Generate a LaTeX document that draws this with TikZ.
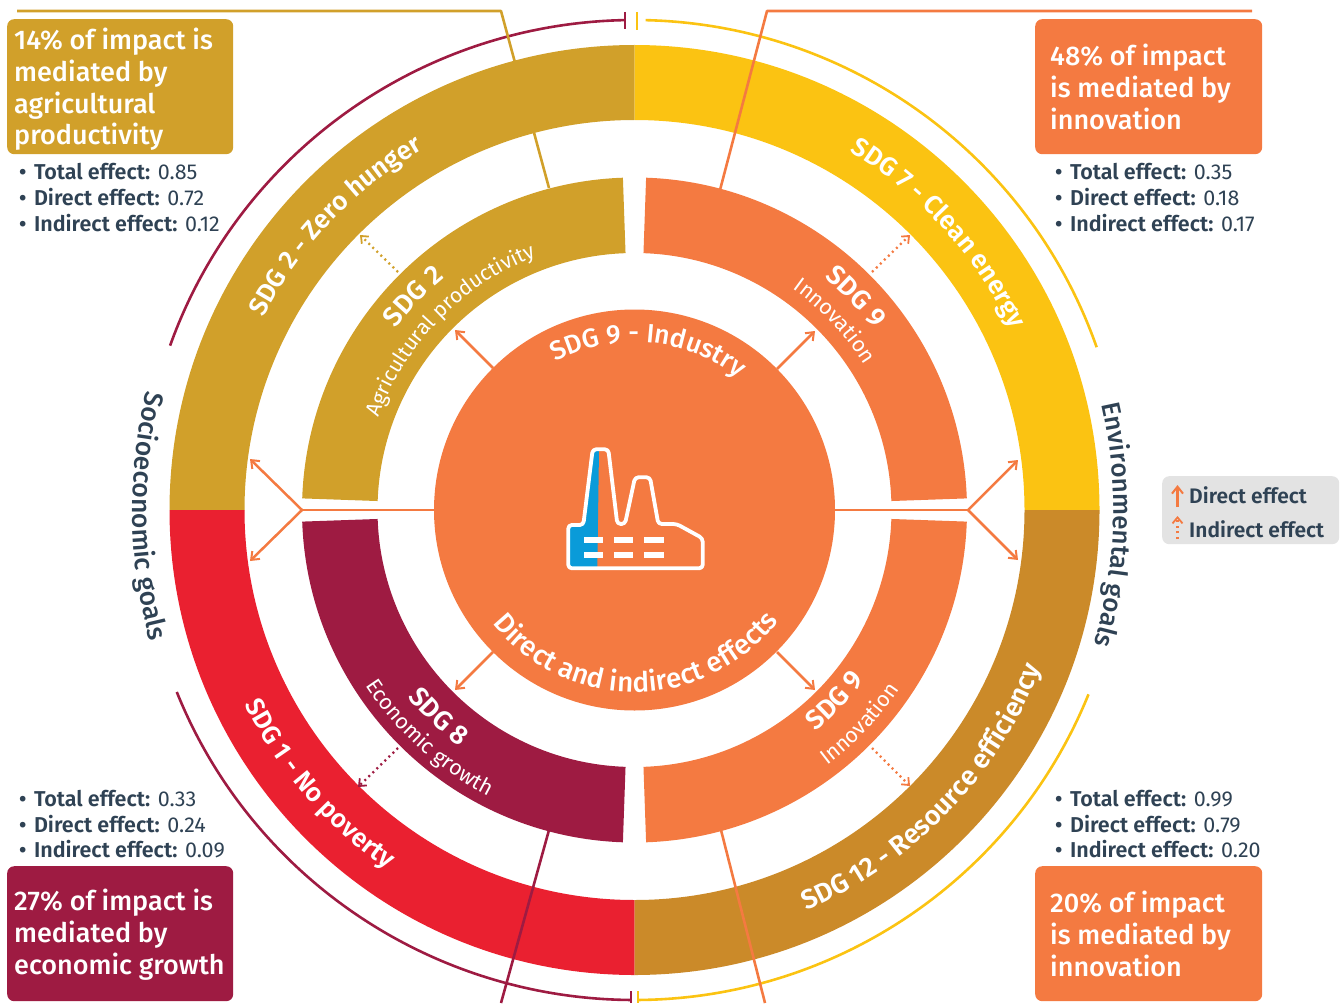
\documentclass[tikz,border=0pt]{standalone}
\usepackage{fontspec}
\setmainfont{Fira Sans}[BoldFont={Fira Sans Medium}]
\newfontface\fsemi{Fira Sans SemiBold}
\usetikzlibrary{arrows.meta,decorations.text}
\definecolor{cgold}{HTML}{D1A02A}
\definecolor{cyel}{HTML}{FBC312}
\definecolor{cred}{HTML}{EA2030}
\definecolor{cbrn}{HTML}{CB8A29}
\definecolor{corg}{HTML}{F47A41}
\definecolor{cwine}{HTML}{9E1B42}
\definecolor{cslate}{HTML}{2F4254}
\definecolor{cblue}{HTML}{0A9BD9}
\definecolor{cleg}{HTML}{E3E3E3}
\newcommand\sector[5]{\fill[#1,shift={(c)}] (#2:#4pt) arc[start angle=#2,end angle=#3,radius=#4pt] -- (#3:#5pt) arc[start angle=#3,end angle=#2,radius=#5pt] -- cycle;}
\newcommand\arctext[5]{\path[shift={(c)},decorate,decoration={text along path,text align=center,text={|#4|#5}}] (#2:#1pt) arc[start angle=#2,end angle=#3,radius=#1pt];}
\newcommand\wt[1]{\color{white}\fsemi\fontsize{#1}{#1}\selectfont}
\newcommand\wn[1]{\color{white}\fontsize{#1}{#1}\selectfont}
\newcommand\dk[1]{\color{cslate}\bfseries\fontsize{#1}{#1}\selectfont}
\tikzset{
 boxtext/.style={anchor=base west,inner sep=0pt,text=white,font=\bfseries\fontsize{27}{32}\selectfont},
 stat/.style={anchor=base west,inner sep=0pt,text=cslate,font=\fontsize{21.5}{24}\selectfont},
 keytext/.style={anchor=base west,inner sep=0pt,text=cslate,font=\fsemi\fontsize{21}{24}\selectfont},
 link/.style={line width=2.6pt,line join=round},
 direct/.style={line width=2.5pt,corg,-{Straight Barb[length=7pt,width=11pt,line width=2pt]}},
 indirect/.style={line width=2.3pt,dash pattern=on 2pt off 3.6pt,-{Straight Barb[length=6pt,width=10pt,line width=1.8pt,sep=0pt]}},
 limit/.style={line width=2.6pt},
}
\begin{document}
\begin{tikzpicture}[x=1pt,y=-1pt]
\useasboundingbox (0,0) rectangle (1340,1003);
\coordinate (c) at (634.5,510);
% outer ring
\sector{cgold}{90}{180}{465}{390}
\sector{cyel}{0}{90}{465}{390}
\sector{cred}{180}{270}{465}{390}
\sector{cbrn}{270}{360}{465}{390}
% middle ring
\sector{cgold}{92}{178}{332.5}{257}
\sector{corg}{2}{88}{332.5}{257}
\sector{cwine}{182}{268}{332.5}{257}
\sector{corg}{272}{358}{332.5}{257}
% limits
\coordinate (tlA) at (625,21);\coordinate (trA) at (636.8,21);
\coordinate (blA) at (631,1000);\coordinate (brA) at (638,1000);
\draw[limit,cwine,shift={(c)}] (160.4:493pt and 490pt) arc[start angle=160.4,end angle=91.1,x radius=493pt,y radius=490pt];
\draw[limit,cyel,shift={(c)}] (19.4:490pt) arc[start angle=19.4,end angle=88.7,radius=490pt];
\draw[limit,cwine,shift={(c)}] (201.8:493pt and 490pt) arc[start angle=201.8,end angle=269.6,x radius=493pt,y radius=490pt];
\draw[limit,cyel,shift={(c)}] (-22.1:490pt) arc[start angle=-22.1,end angle=-89.6,radius=490pt];
\draw[limit,cwine] (625,12) -- (tlA) -- (625,29.5);
\draw[limit,cyel] (636.8,12) -- (trA) -- (636.8,30);
\draw[limit,cwine] (631,991) -- (blA) -- (631,1003);
\draw[limit,cyel] (638,991) -- (brA) -- (638,1003);
% links box -> middle ring
\coordinate (l1s) at (17,11);\coordinate (l1m) at (501,11);\coordinate (l1e) at (549,188);
\draw[link,cgold] (l1s) -- (l1m) -- (l1e);
\coordinate (l2s) at (1252,11);\coordinate (l2m) at (767,11);\coordinate (l2e) at (720,190);
\draw[link,corg] (l2s) -- (l2m) -- (l2e);
\coordinate (l3s) at (549,830);\coordinate (l3e) at (501,1003);
\draw[link,cwine] (l3s) -- (l3e);
\coordinate (l4s) at (721,830);\coordinate (l4e) at (765,1003);
\draw[link,corg] (l4s) -- (l4e);
% centre
\node[circle,fill=corg,minimum size=401pt,inner sep=0pt] (hub) at (c) {};
\coordinate (a1s) at (493,368);\coordinate (a1e) at (455,330);
\coordinate (a2s) at (777,369);\coordinate (a2e) at (815,331);
\coordinate (a3s) at (493,652);\coordinate (a3e) at (455,690);
\coordinate (a4s) at (777,652);\coordinate (a4e) at (815,690);
\draw[direct] (a1s) -- (a1e);\draw[direct] (a2s) -- (a2e);\draw[direct] (a3s) -- (a3e);\draw[direct] (a4s) -- (a4e);
\coordinate (lf) at (302,510);\coordinate (lu) at (250,459);\coordinate (ld) at (250,561);
\coordinate (rf) at (968,510);\coordinate (ru) at (1018,460);\coordinate (rd) at (1018,560);
\draw[link,corg] (hub.west) -- (lf);
\draw[link,corg] (hub.east) -- (rf);
\draw[direct] (lf) -- (lu);\draw[direct] (lf) -- (ld);\draw[direct] (rf) -- (ru);\draw[direct] (rf) -- (rd);
% dotted
\coordinate (d1s) at (398,272);\coordinate (d1e) at (360,235);
\coordinate (d2s) at (872,272);\coordinate (d2e) at (910,235);
\coordinate (d3s) at (398,748);\coordinate (d3e) at (358,787);
\coordinate (d4s) at (872,748);\coordinate (d4e) at (910,786);
\draw[indirect,cgold] (d1s) -- (d1e);
\draw[indirect,corg] (d2s) -- (d2e);
\draw[indirect,cwine] (d3s) -- (d3e);
\draw[indirect,corg] (d4s) -- (d4e);
% factory icon
\fill[cblue] (568,525) -- (583,525) -- (592.7,449.3) -- (599,449.3) -- (597.3,568.3) -- (568,568.3) -- cycle;
\draw[white,line width=3.8pt,rounded corners=3.5pt,line join=round] (568.3,568.3) -- (568.3,525) -- (583.3,525) -- (592.7,449.3) -- (608.3,449.3) -- (617.3,524) -- (625,524) -- (635,477.3) -- (650,477.3) -- (658.3,524) -- (676.7,524) -- (702.7,538.3) -- (702.7,568.3) -- cycle;
\foreach \yy in {540,554.7}{\foreach \xa/\xb in {584/603.3,614/633.3,644/664}{\fill[white] (\xa,\yy-2.8) rectangle (\xb,\yy+2.8);}}
% ring labels
\arctext{418}{175}{98}{\wt{26}}{SDG 2 - Zero hunger}
\arctext{418}{80.3}{4.3}{\wt{26}}{SDG 7 - Clean energy}
\arctext{436}{185.5}{256.5}{\wt{26}}{SDG 1 - No poverty}
\arctext{436}{275}{357}{\wt{27}}{SDG 12 - Resource efficiency}
\arctext{300}{176}{96}{\wt{27}}{SDG 2}
\arctext{272}{176.5}{94.9}{\wn{21}}{Agricultural productivity}
\arctext{300}{84}{4}{\wt{27}}{SDG 9}
\arctext{272}{83}{3.6}{\wn{21.5}}{Innovation}
\arctext{286}{276.5}{356.5}{\wt{27}}{SDG 9}
\arctext{320}{276}{357}{\wn{21.5}}{Innovation}
\arctext{294}{187}{266.2}{\wt{27}}{SDG 8}
\arctext{321}{188}{268}{\wn{21.5}}{Economic growth}
\arctext{168}{160}{10}{\color{white}\bfseries\fontsize{26.5}{26}\selectfont}{SDG 9 - Industry}
\arctext{182}{190}{351}{\color{white}\bfseries\fontsize{27.8}{26}\selectfont}{Direct and indirect effects}
\arctext{502}{150.7}{210.7}{\dk{26.5}}{Socioeconomic goals}
\arctext{479}{28.2}{-31.8}{\dk{26}}{Environmental goals}
% callouts
\node[fill=cgold,rounded corners=7pt,minimum width=226pt,minimum height=135pt,inner sep=0pt,anchor=north west] (bx1) at (7,19) {};
\node[fill=corg,rounded corners=7pt,minimum width=227pt,minimum height=135pt,inner sep=0pt,anchor=north west] (bx2) at (1035,19) {};
\node[fill=cwine,rounded corners=7pt,minimum width=226pt,minimum height=135pt,inner sep=0pt,anchor=north west] (bx3) at (7,866) {};
\node[fill=corg,rounded corners=7pt,minimum width=227pt,minimum height=135pt,inner sep=0pt,anchor=north west] (bx4) at (1035,866) {};
\node[boxtext] (t11) at (14,49.5) {14\% of impact is};
\node[boxtext] (t12) at (14,81.5) {mediated by};
\node[boxtext] (t13) at (14,113.5) {agricultural};
\node[boxtext] (t14) at (14,145) {productivity};
\node[boxtext] (t21) at (1050,65.5) {48\% of impact};
\node[boxtext] (t22) at (1050,97.5) {is mediated by};
\node[boxtext] (t23) at (1050,129.5) {innovation};
\node[boxtext] (t31) at (14,910.5) {27\% of impact is};
\node[boxtext] (t32) at (14,942.5) {mediated by};
\node[boxtext] (t33) at (14,974.5) {economic growth};
\node[boxtext] (t41) at (1050,912.5) {20\% of impact};
\node[boxtext] (t42) at (1050,944.5) {is mediated by};
\node[boxtext] (t43) at (1050,976.5) {innovation};
% stats
\foreach \nm/\xx/\yy/\lab/\val in {
 a/19/180/Total/0.85, b/19/205.5/Direct/0.72, c/19/231/Indirect/0.12,
 d/1055/180/Total/0.35, e/1055/205.5/Direct/0.18, f/1055/231/Indirect/0.17,
 g/19/806.5/Total/0.33, h/19/832/Direct/0.24, i/19/857.5/Indirect/0.09,
 j/1055/806.5/Total/0.99, k/1055/832/Direct/0.79, l/1055/857.5/Indirect/0.20}{
 \node[stat] (s\nm) at (\xx,\yy) {{\fsemi •\hspace{7.5pt}\lab\ effect:} \val};
}
% legend
\node[fill=cleg,rounded corners=7pt,minimum width=177pt,minimum height=68pt,inner sep=0pt,anchor=north west] (leg) at (1162,476) {};
\coordinate (k1s) at (1177.5,507);\coordinate (k1e) at (1177.5,485);
\coordinate (k2s) at (1177.5,539);\coordinate (k2e) at (1177.5,516);
\draw[direct,line width=2.6pt] (k1s) -- (k1e);
\draw[indirect,corg] (k2s) -- (k2e);
\node[keytext] (k1t) at (1189,503.5) {Direct effect};
\node[keytext] (k2t) at (1189,537.5) {Indirect effect};
\end{tikzpicture}
\end{document}
